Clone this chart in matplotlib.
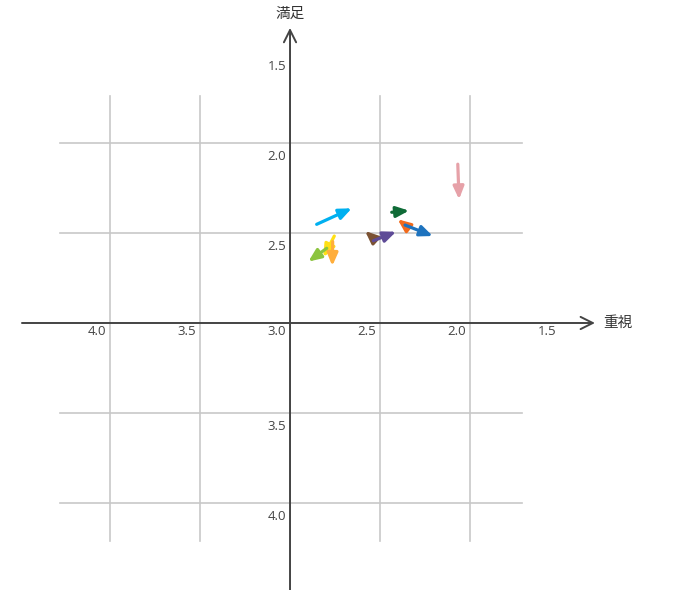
import matplotlib
matplotlib.use("Agg")
import matplotlib.pyplot as plt

# arrow data: (重視, 満足) from -> to
colors = ["#00B0F0", "#E6A1A8", "#0F6B37", "#F26A1B", "#1E73BE",
          "#7B5233", "#5E4B97", "#FFE015", "#FFAE3C", "#8CC43F"]
start_x = [2.852, 2.068, 2.435, 2.361, 2.361, 2.537, 2.537, 2.754, 2.763, 2.796]
start_y = [2.452, 2.118, 2.385, 2.456, 2.456, 2.530, 2.543, 2.517, 2.548, 2.585]
end_x = [2.657, 2.061, 2.339, 2.402, 2.207, 2.583, 2.411, 2.815, 2.765, 2.898]
end_y = [2.363, 2.313, 2.376, 2.424, 2.517, 2.489, 2.493, 2.635, 2.683, 2.659]

x_ticks = [4.0, 3.5, 3.0, 2.5, 2.0, 1.5]
y_ticks = [1.5, 2.0, 2.5, 3.0, 3.5, 4.0]
grid_x = [4.0, 3.5, 2.5, 2.0]
grid_y = [2.0, 2.5, 3.5, 4.0]

fig = plt.figure(figsize=(6.74, 5.90), dpi=100)
ax = fig.add_axes([0, 0, 1, 1])
ax.set_xlim(4.611, 0.867)
ax.set_ylim(4.483, 1.206)
ax.axis("off")

grid_col = "#c8c8c8"
for gx in grid_x:
    ax.plot([gx, gx], [1.74, 4.21], color=grid_col, lw=1.2, zorder=1)
for gy in grid_y:
    ax.plot([4.28, 1.71], [gy, gy], color=grid_col, lw=1.2, zorder=1)

axis_col = "#444444"
ax.annotate("", xy=(1.306, 3.0), xytext=(4.489, 3.0),
            arrowprops=dict(arrowstyle="->", color=axis_col, lw=1.4,
                            mutation_scale=22, shrinkA=0, shrinkB=0), zorder=2)
ax.annotate("", xy=(3.0, 1.361), xytext=(3.0, 4.483),
            arrowprops=dict(arrowstyle="->", color=axis_col, lw=1.4,
                            mutation_scale=22, shrinkA=0, shrinkB=0), zorder=2)

tick_font = dict(fontsize=9.5, color="#444444", family="Open Sans")
for t in x_ticks:
    ax.text(t + 0.02, 3.01, f"{t:.1f}", ha="right", va="top", **tick_font)
for t in y_ticks:
    if t == 3.0:
        continue
    ax.text(3.02, t + 0.075, f"{t:.1f}", ha="right", va="center", **tick_font)

ax.text(1.26, 3.0, "重視", ha="left", va="center", fontsize=10.5,
        color="#333333", family=["Noto Sans CJK JP", "DejaVu Sans"])
ax.text(3.0, 1.28, "満足", ha="center", va="center", fontsize=10.5,
        color="#333333", family=["Noto Sans CJK JP", "DejaVu Sans"])

for sx, sy, ex, ey, c in zip(start_x, start_y, end_x, end_y, colors):
    ax.annotate("", xy=(ex, ey), xytext=(sx, sy),
                arrowprops=dict(arrowstyle="-|>,head_length=0.75,head_width=0.32",
                                color=c, lw=2.3, mutation_scale=10,
                                shrinkA=0, shrinkB=0),
                zorder=3)

fig.savefig("out.png", dpi=100)
